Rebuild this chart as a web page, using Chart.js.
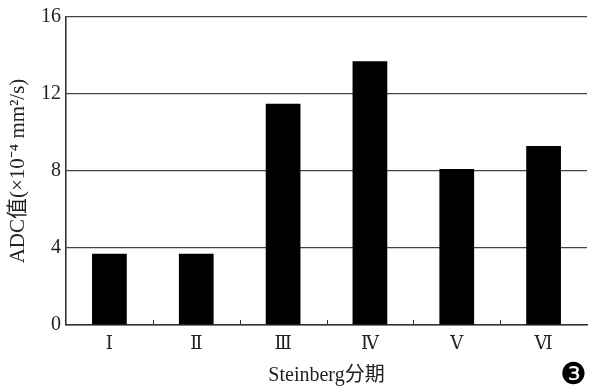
<!DOCTYPE html>
<html>
<head>
<meta charset="utf-8">
<script src="https://cdn.jsdelivr.net/npm/chart.js@4"></script>
<style>
  html, body { margin: 0; padding: 0; background: #fff; }
  #wrap { position: relative; width: 590px; height: 392px; }
  #mark { position: absolute; left: 560px; top: 359px; font: 30px "DejaVu Sans"; color: #000; line-height: 30px; }
</style>
</head>
<body>
<div id="wrap">
  <canvas id="c" width="590" height="392"></canvas>
  <div id="mark">❸</div>
</div>
<script>
const categories = ['Ⅰ', 'Ⅱ', 'Ⅲ', 'Ⅳ', 'Ⅴ', 'Ⅵ'];
const adcValues = [3.7, 3.7, 11.5, 13.7, 8.1, 9.3];
const yTicks = [0, 4, 8, 12, 16];
const xTitle = 'Steinberg分期';
const yTitle = 'ADC值(×10⁻⁴ mm²/s)';

const serif = '"Liberation Serif", "Noto Sans CJK SC", serif';
const romanFont = '"DejaVu Serif", "Liberation Serif", serif';

const innerTicks = {
  id: 'innerTicks',
  afterDraw(chart) {
    const x = chart.scales.x, ctx = chart.ctx;
    const bottom = chart.chartArea.bottom;
    ctx.save();
    ctx.strokeStyle = '#333';
    ctx.lineWidth = 1;
    for (let i = 0; i < categories.length - 1; i++) {
      const px = Math.round((x.getPixelForValue(i) + x.getPixelForValue(i + 1)) / 2) + 0.5;
      ctx.beginPath();
      ctx.moveTo(px, bottom);
      ctx.lineTo(px, bottom - 5);
      ctx.stroke();
    }
    ctx.restore();
  }
};

new Chart(document.getElementById('c'), {
  type: 'bar',
  data: {
    labels: categories,
    datasets: [{
      data: adcValues,
      backgroundColor: '#000',
      borderWidth: 0,
      barPercentage: 0.4,
      categoryPercentage: 1.0
    }]
  },
  options: {
    responsive: false,
    animation: false,
    layout: { padding: { top: 17, right: 3, left: 0, bottom: 0 } },
    plugins: { legend: { display: false }, tooltip: { enabled: false } },
    scales: {
      x: {
        afterFit(s) { s.height = 67; },
        grid: { display: false, drawTicks: false },
        border: { display: true, color: '#333', width: 1.6 },
        ticks: { color: '#222', padding: 9, font: { family: romanFont, size: 18 } },
        title: { display: true, text: xTitle, color: '#222', padding: { top: 0, bottom: 4 }, font: { family: serif, size: 20 } }
      },
      y: {
        min: 0, max: 16,
        afterFit(s) { s.width = 66; },
        afterBuildTicks(s) { s.ticks = yTicks.map(v => ({ value: v })); },
        grid: { color: '#444', lineWidth: 1.2, drawTicks: false },
        border: { display: true, color: '#333', width: 1.6 },
        ticks: { color: '#222', padding: 5, font: { family: serif, size: 20 } },
        title: { display: true, text: yTitle, color: '#222', padding: { top: 6, bottom: 0 }, font: { family: serif, size: 21 } }
      }
    }
  },
  plugins: [innerTicks]
});
</script>
</body>
</html>
